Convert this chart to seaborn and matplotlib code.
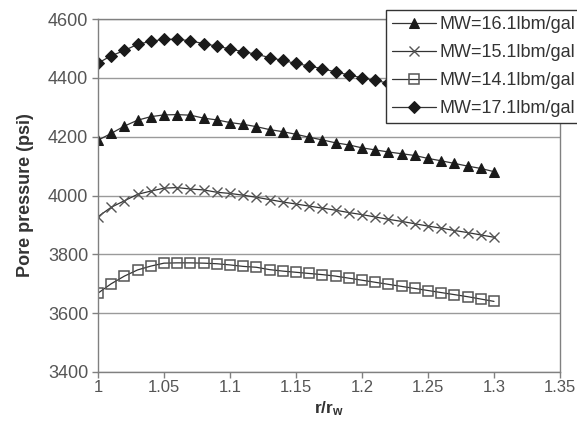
import matplotlib
matplotlib.use("Agg")
import matplotlib.pyplot as plt
import seaborn as sns
import pandas as pd

r_ratio = [1.00, 1.01, 1.02, 1.03, 1.04, 1.05, 1.06, 1.07, 1.08, 1.09,
           1.10, 1.11, 1.12, 1.13, 1.14, 1.15, 1.16, 1.17, 1.18, 1.19,
           1.20, 1.21, 1.22, 1.23, 1.24, 1.25, 1.26, 1.27, 1.28, 1.29, 1.30]

mw_16_1 = [4188, 4211, 4236, 4256, 4268, 4274, 4275, 4273, 4263, 4257,
           4248, 4242, 4234, 4224, 4217, 4208, 4198, 4189, 4179, 4172,
           4162, 4155, 4148, 4142, 4136, 4126, 4118, 4109, 4100, 4092, 4081]
mw_15_1 = [3928, 3960, 3982, 4004, 4015, 4025, 4027, 4022, 4019, 4011,
           4007, 4001, 3994, 3986, 3978, 3971, 3964, 3957, 3950, 3942,
           3935, 3927, 3919, 3912, 3904, 3896, 3889, 3881, 3874, 3866, 3858]
mw_14_1 = [3668, 3700, 3726, 3747, 3760, 3770, 3771, 3771, 3770, 3768,
           3764, 3759, 3756, 3748, 3743, 3739, 3735, 3731, 3726, 3719,
           3712, 3705, 3698, 3691, 3684, 3677, 3670, 3663, 3656, 3648, 3640]
mw_17_1 = [4450, 4475, 4493, 4514, 4524, 4531, 4531, 4526, 4516, 4508,
           4498, 4489, 4480, 4469, 4459, 4449, 4440, 4431, 4420, 4410,
           4400, 4391, 4382, 4373, 4364, 4355, 4346, 4337, 4328, 4320, 4311]

labels = ["MW=16.1lbm/gal", "MW=15.1lbm/gal", "MW=14.1lbm/gal", "MW=17.1lbm/gal"]
series = [mw_16_1, mw_15_1, mw_14_1, mw_17_1]

x_ticks = [1, 1.05, 1.1, 1.15, 1.2, 1.25, 1.3, 1.35]
x_tick_labels = ["1", "1.05", "1.1", "1.15", "1.2", "1.25", "1.3", "1.35"]
y_ticks = [3400, 3600, 3800, 4000, 4200, 4400, 4600]

sns.set_theme(style="white")
plt.rcParams['font.family'] = ['Liberation Sans', 'DejaVu Sans']
plt.rcParams['mathtext.fontset'] = 'custom'
plt.rcParams['mathtext.rm'] = 'Liberation Sans'
plt.rcParams['mathtext.bf'] = 'Liberation Sans:bold'

fig = plt.figure(figsize=(5.77, 4.24), dpi=100)
ax = fig.add_axes([98/577, 1 - 372/424, (560 - 98)/577, (372 - 19)/424])

styles = [
    dict(marker="^", markersize=7.5, markerfacecolor="#1a1a1a", markeredgecolor="#1a1a1a"),
    dict(marker="x", markersize=7, markerfacecolor="none", markeredgecolor="#555555", markeredgewidth=1.0),
    dict(marker="s", markersize=7, markerfacecolor="none", markeredgecolor="#555555", markeredgewidth=1.1),
    dict(marker="D", markersize=6, markerfacecolor="#1a1a1a", markeredgecolor="#1a1a1a"),
]

for vals, lab, st in zip(series, labels, styles):
    df = pd.DataFrame({"r": r_ratio, "p": vals})
    sns.lineplot(data=df, x="r", y="p", ax=ax, color="#333333", linewidth=0.9,
                 label=lab, **st)

ax.set_xlim(1, 1.35)
ax.set_ylim(3400, 4600)
ax.set_xticks(x_ticks)
ax.set_xticklabels(x_tick_labels)
ax.set_yticks(y_ticks)
ax.yaxis.grid(True, color="#9a9a9a", linewidth=1.0)
ax.xaxis.grid(False)
for s in ax.spines.values():
    s.set_color("#808080")
    s.set_linewidth(1.0)
ax.tick_params(axis="both", which="major", direction="out", length=4, width=1,
               color="#808080", labelcolor="#555555", bottom=True, left=True)
ax.tick_params(axis="y", labelsize=13, pad=3)
ax.tick_params(axis="x", labelsize=12, pad=2)

ax.set_xlabel(r"$\mathbf{r/r_w}$", fontsize=12.5, color="#333333", labelpad=3)
ax.set_ylabel("Pore pressure (psi)", fontsize=13, fontweight="bold", color="#333333", labelpad=10)

leg = ax.legend(loc="upper left", bbox_to_anchor=(386/577, 1 - 10/424),
                bbox_transform=fig.transFigure, fontsize=13, frameon=True,
                fancybox=False, edgecolor="#333333", framealpha=1,
                handlelength=2.4, handletextpad=0.2, labelspacing=0.6,
                borderpad=0.35, borderaxespad=0)
leg.get_frame().set_linewidth(1.0)
for t in leg.get_texts():
    t.set_color("#333333")

fig.savefig("out.png", dpi=100)
